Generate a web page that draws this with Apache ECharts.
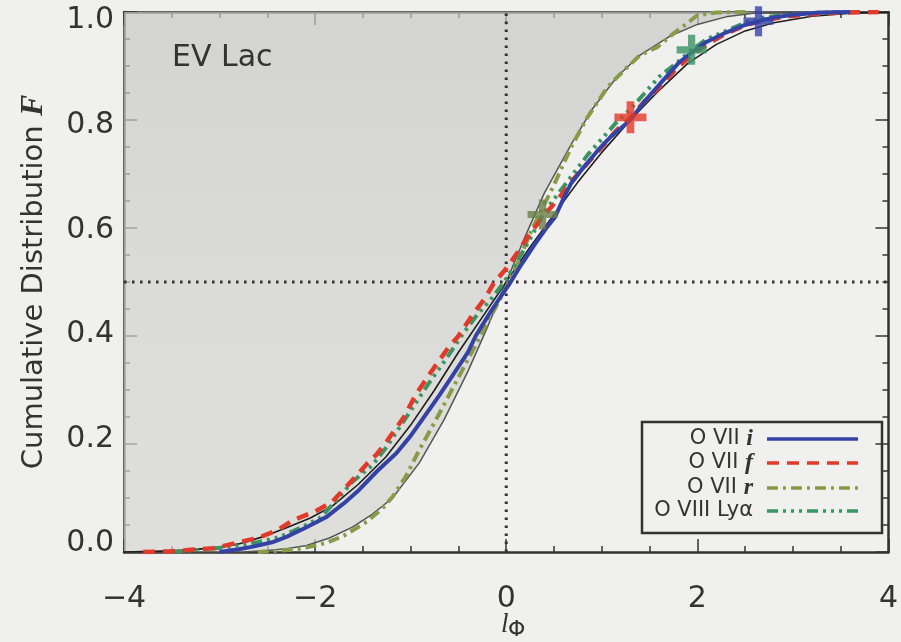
<!DOCTYPE html>
<html>
<head>
<meta charset="utf-8">
<title>EV Lac cumulative distributions</title>
<script src="https://cdn.jsdelivr.net/npm/echarts@6/dist/echarts.min.js"></script>
<style>
  html, body { margin: 0; padding: 0; background: #f0f0ee; }
  #chart { width: 901px; height: 642px; }
</style>
</head>
<body>
<div id="chart"></div>
<script>
// Axis ticks
const xTicks = [-4, -2, 0, 2, 4];
const yTicks = [0.0, 0.2, 0.4, 0.6, 0.8, 1.0];

// Empirical cumulative distributions, [l_phi, F]
const o7i = [[-3.0,0],[-2.8,0.005],[-2.65,0.01],[-2.45,0.018],[-2.3,0.028],[-2.1,0.045],[-1.88,0.065],[-1.7,0.09],[-1.54,0.115],[-1.35,0.15],[-1.15,0.183],[-1.0,0.215],[-0.86,0.25],[-0.7,0.29],[-0.55,0.33],[-0.4,0.37],[-0.32,0.40],[-0.18,0.44],[-0.05,0.475],[0.04,0.498],[0.15,0.53],[0.3,0.57],[0.42,0.60],[0.51,0.62],[0.6,0.655],[0.68,0.683],[0.8,0.71],[0.96,0.744],[1.1,0.77],[1.3,0.80],[1.45,0.835],[1.6,0.865],[1.8,0.905],[1.94,0.925],[2.1,0.945],[2.3,0.962],[2.5,0.976],[2.64,0.983],[2.8,0.99],[3.0,0.995],[3.3,0.999],[3.6,1.0]];
const o7f = [[-3.8,0],[-3.54,0.001],[-3.3,0.004],[-3.06,0.007],[-2.82,0.017],[-2.6,0.026],[-2.4,0.04],[-2.23,0.059],[-2.0,0.075],[-1.82,0.093],[-1.6,0.135],[-1.45,0.165],[-1.36,0.18],[-1.25,0.205],[-1.07,0.25],[-0.95,0.29],[-0.8,0.33],[-0.62,0.375],[-0.5,0.40],[-0.35,0.44],[-0.22,0.47],[-0.13,0.498],[0.0,0.525],[0.12,0.555],[0.25,0.59],[0.38,0.62],[0.55,0.655],[0.7,0.69],[0.85,0.72],[1.0,0.75],[1.15,0.78],[1.3,0.805],[1.45,0.835],[1.6,0.86],[1.78,0.895],[1.94,0.92],[2.1,0.94],[2.3,0.96],[2.5,0.975],[2.7,0.985],[2.95,0.992],[3.2,0.996],[3.5,0.999],[3.9,1.0]];
const o7r = [[-2.6,0],[-2.23,0.004],[-2.05,0.01],[-1.88,0.017],[-1.7,0.03],[-1.46,0.056],[-1.3,0.08],[-1.19,0.102],[-1.05,0.14],[-0.91,0.189],[-0.75,0.24],[-0.6,0.29],[-0.45,0.34],[-0.3,0.39],[-0.15,0.44],[0.0,0.49],[0.12,0.535],[0.25,0.59],[0.36,0.63],[0.5,0.68],[0.68,0.75],[0.85,0.805],[1.06,0.861],[1.25,0.895],[1.4,0.92],[1.58,0.935],[1.75,0.96],[1.9,0.98],[2.0,0.994],[2.2,0.999],[2.5,1.0]];
const o8lya = [[-3.5,0],[-3.2,0.004],[-2.89,0.01],[-2.6,0.018],[-2.37,0.028],[-2.15,0.045],[-1.95,0.063],[-1.78,0.095],[-1.61,0.13],[-1.4,0.161],[-1.25,0.195],[-1.1,0.235],[-0.95,0.275],[-0.8,0.315],[-0.62,0.36],[-0.45,0.405],[-0.3,0.44],[-0.15,0.47],[0.0,0.505],[0.12,0.54],[0.25,0.58],[0.4,0.63],[0.55,0.665],[0.7,0.70],[0.85,0.735],[1.0,0.765],[1.15,0.795],[1.3,0.82],[1.45,0.85],[1.6,0.88],[1.78,0.905],[1.94,0.93],[2.1,0.95],[2.3,0.965],[2.5,0.98],[2.7,0.99],[3.0,0.996],[3.3,0.999],[3.7,1.0]];

// Reference curves
const fitCurve = [[-4,0],[-3.5,0.002],[-3.3,0.004],[-3.0,0.009],[-2.8,0.015],[-2.55,0.028],[-2.3,0.045],[-2.05,0.063],[-1.82,0.085],[-1.55,0.125],[-1.26,0.176],[-1.0,0.235],[-0.75,0.30],[-0.5,0.37],[-0.25,0.435],[0,0.5],[0.25,0.565],[0.5,0.625],[0.75,0.685],[1.0,0.74],[1.3,0.80],[1.6,0.855],[1.9,0.905],[2.2,0.94],[2.5,0.965],[2.8,0.98],[3.2,0.992],[3.6,0.998],[4,1.0]];
const modelCurve = [[-4,0],[-2.75,0],[-2.5,0.003],[-2.3,0.006],[-2.09,0.012],[-1.85,0.026],[-1.61,0.046],[-1.4,0.07],[-1.19,0.1],[-0.91,0.165],[-0.65,0.245],[-0.4,0.335],[-0.2,0.415],[0,0.5],[0.2,0.585],[0.4,0.665],[0.68,0.755],[0.9,0.82],[1.16,0.88],[1.4,0.92],[1.71,0.955],[2.0,0.977],[2.3,0.991],[2.6,0.998],[2.9,1.0],[4,1.0]];

// Marked points on each distribution
const markI = [[2.64, 0.983]];
const markF = [[1.30, 0.805]];
const markR = [[0.38, 0.625]];
const markLya = [[1.94, 0.93]];

const C_I = '#3442a6', C_F = '#e23a2a', C_R = '#8a9a48', C_LYA = '#3a9464';
const C_RMARK = '#6c7f48';
const INK = '#333333';
const plus = 'path://M3.8,0H6.2V3.8H10V6.2H6.2V10H3.8V6.2H0V3.8H3.8Z';

const chart = echarts.init(document.getElementById('chart'));

const tickStyle = { color: INK, width: 1.5 };
function axisBase(extra) {
  return Object.assign({
    type: 'value',
    axisLine: { show: true, onZero: false, lineStyle: { color: INK, width: 2.5 } },
    axisTick: { show: true, inside: true, length: 13, lineStyle: tickStyle },
    minorTick: { show: true, splitNumber: 4, length: 6, lineStyle: tickStyle },
    splitLine: { show: false },
    minorSplitLine: { show: false }
  }, extra);
}

// y labels sit slightly spread relative to their ticks
const yRich = {};
yTicks.forEach(function (v) {
  const s = (v - 0.5) * 17.3;
  const key = 'y' + Math.round(v * 10);
  yRich[key] = {
    fontSize: 30, color: INK, fontFamily: 'DejaVu Sans',
    padding: s >= 0 ? [2 * s, 0, 0, 0] : [0, 0, -2 * s, 0]
  };
});

const option = {
  backgroundColor: '#f0f0ee',
  animation: false,
  grid: { left: 124, right: 9, top: 12, bottom: 90 },
  xAxis: [
    axisBase({
      min: xTicks[0], max: xTicks[xTicks.length - 1], interval: 2, position: 'bottom',
      axisLabel: {
        show: true, margin: 32, fontSize: 30, color: INK, fontFamily: 'DejaVu Sans',
        formatter: function (v) { return String(v).replace('-', '\u2212'); }
      }
    }),
    axisBase({
      min: xTicks[0], max: xTicks[xTicks.length - 1], interval: 2, position: 'top',
      axisLabel: { show: false }
    })
  ],
  yAxis: [
    axisBase({
      min: yTicks[0], max: yTicks[yTicks.length - 1], interval: 0.2, position: 'left',
      name: '{t|Cumulative Distribution }{f|F}',
      nameLocation: 'middle', nameRotate: 90, nameGap: 74,
      nameTextStyle: {
        rich: {
          t: { fontSize: 29, color: INK, fontFamily: 'DejaVu Sans' },
          f: { fontSize: 32, color: INK, fontFamily: 'Liberation Serif', fontStyle: 'italic', fontWeight: 'bold' }
        }
      },
      axisLabel: {
        show: true, margin: 10, fontSize: 30, color: INK, fontFamily: 'DejaVu Sans',
        formatter: function (v) { return '{y' + Math.round(v * 10) + '|' + v.toFixed(1) + '}'; },
        rich: yRich
      }
    }),
    axisBase({
      min: yTicks[0], max: yTicks[yTicks.length - 1], interval: 0.2, position: 'right',
      axisLabel: { show: false }
    })
  ],
  series: [
    {
      name: 'model', type: 'line', data: modelCurve, symbol: 'none', z: 1,
      lineStyle: { color: '#555555', width: 1.5 },
      areaStyle: {
        origin: 'end',
        color: new echarts.graphic.LinearGradient(0, 0, 0, 1, [
          { offset: 0, color: '#c7c7c7' },
          { offset: 0.45, color: '#d1d1cf' },
          { offset: 1, color: '#d7d8d2' }
        ])
      }
    },
    {
      name: 'xref', type: 'line', data: [[0, 0], [0, 1]], symbol: 'none', z: 2,
      lineStyle: { color: INK, width: 3, type: [2.5, 5.5] }
    },
    {
      name: 'yref', type: 'line', data: [[-4, 0.5], [4, 0.5]], symbol: 'none', z: 2,
      lineStyle: { color: INK, width: 3, type: [2.5, 5.5] }
    },
    {
      name: 'fit', type: 'line', data: fitCurve, symbol: 'none', z: 3,
      lineStyle: { color: '#1e1e1e', width: 1.6 }
    },
    {
      name: 'O VII r', type: 'line', data: o7r, symbol: 'none', z: 4,
      lineStyle: { color: C_R, width: 4, type: [11, 5, 3, 5] }
    },
    {
      name: 'O VIII Lya', type: 'line', data: o8lya, symbol: 'none', z: 4,
      lineStyle: { color: C_LYA, width: 4, type: [11, 5, 3, 5, 3, 5, 3, 5] }
    },
    {
      name: 'O VII f', type: 'line', data: o7f, symbol: 'none', z: 4,
      lineStyle: { color: C_F, width: 4.5, type: [12, 8] }
    },
    {
      name: 'O VII i', type: 'line', data: o7i, symbol: 'none', z: 5,
      lineStyle: { color: C_I, width: 4 }
    },
    { type: 'scatter', data: markR, symbol: plus, symbolSize: 30, z: 6, itemStyle: { color: C_RMARK } },
    { type: 'scatter', data: markF, symbol: plus, symbolSize: 32, z: 6, itemStyle: { color: C_F } },
    { type: 'scatter', data: markLya, symbol: plus, symbolSize: 30, z: 6, itemStyle: { color: C_LYA } },
    { type: 'scatter', data: markI, symbol: plus, symbolSize: 30, z: 6, itemStyle: { color: C_I } }
  ],
  graphic: [
    {
      type: 'text', left: 172, top: 43, z: 10,
      style: { text: 'EV Lac', fontSize: 30, fontFamily: 'DejaVu Sans', fill: INK }
    },
    // x axis name: l with subscript Phi
    {
      type: 'text', x: 501, y: 611, z: 10,
      style: { text: 'l', fontSize: 27, fontFamily: 'Liberation Serif', fontStyle: 'italic', fill: INK }
    },
    {
      type: 'text', x: 508, y: 619, z: 10,
      style: { text: '\u03A6', fontSize: 22, fontFamily: 'DejaVu Sans', fill: INK }
    },
    // legend
    {
      type: 'rect', z: 10,
      shape: { x: 642, y: 422, width: 240, height: 111 },
      style: { fill: 'rgba(0,0,0,0)', stroke: INK, lineWidth: 2.5 }
    },
    {
      type: 'group', z: 10,
      children: [
        ['O VII ', 'i', C_I, null, 439],
        ['O VII ', 'f', C_F, [12, 8], 463],
        ['O VII ', 'r', C_R, [11, 5, 3, 5], 488],
        ['O VIII Ly', '\u03B1', C_LYA, [11, 5, 3, 5, 3, 5, 3, 5], 511]
      ].reduce(function (acc, row) {
        const greek = row[1] === '\u03B1';
        acc.push({
          type: 'text', x: 753, y: row[4],
          style: {
            text: '{a|' + row[0] + '}{b|' + row[1] + '}',
            align: 'right', verticalAlign: 'middle',
            rich: {
              a: { fontSize: 21, fontFamily: 'DejaVu Sans', fill: INK },
              b: greek
                ? { fontSize: 21, fontFamily: 'DejaVu Sans', fill: INK }
                : { fontSize: 24, fontFamily: 'Liberation Serif', fontStyle: 'italic', fontWeight: 'bold', fill: INK }
            }
          }
        });
        acc.push({
          type: 'line',
          shape: { x1: 767, y1: row[4], x2: 858, y2: row[4] },
          style: { stroke: row[2], lineWidth: 3.5, lineDash: row[3] }
        });
        return acc;
      }, [])
    }
  ]
};

chart.setOption(option);
</script>
</body>
</html>
